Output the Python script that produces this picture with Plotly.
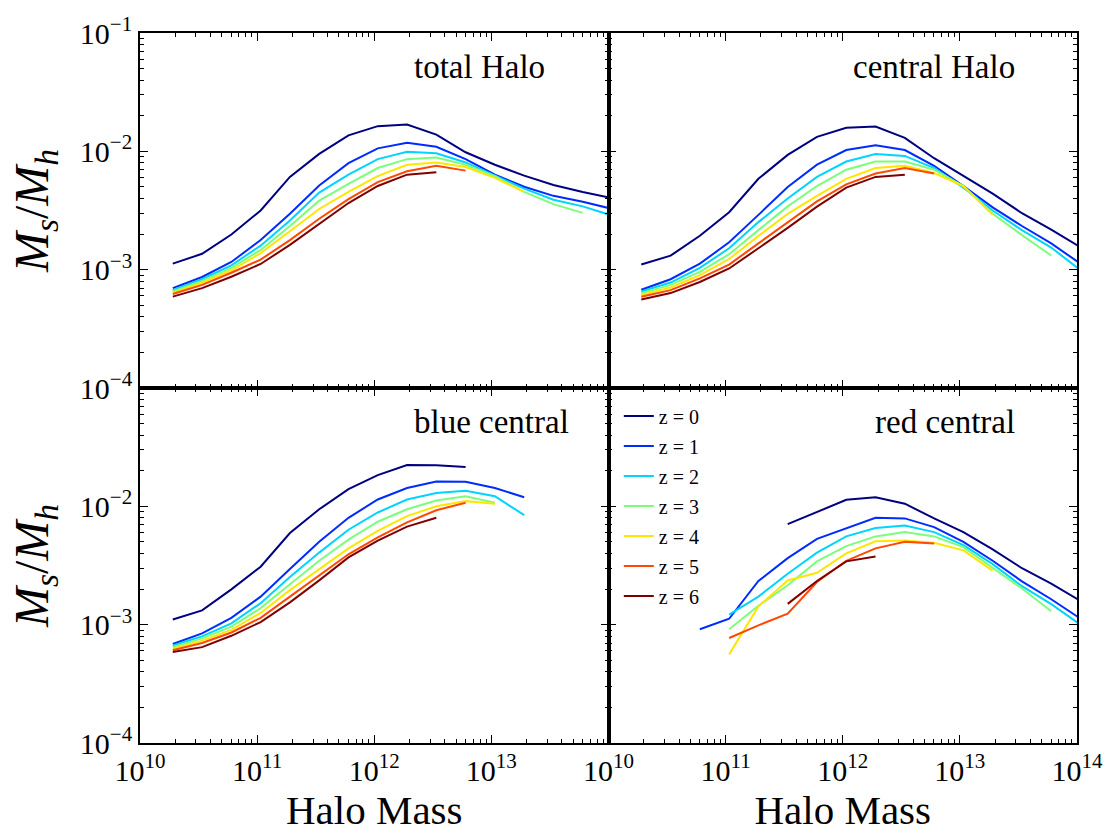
import plotly.graph_objects as go
from plotly.subplots import make_subplots

# log10 of halo mass at each bin
log_halo_mass = [10.28, 10.53, 10.78, 11.03, 11.28, 11.53, 11.78, 12.03,
                 12.28, 12.53, 12.78, 13.03, 13.28, 13.53, 13.78, 14.03]

redshift_labels = ["z = 0", "z = 1", "z = 2", "z = 3", "z = 4", "z = 5", "z = 6"]
redshift_colors = ["#000080", "#002bff", "#00d4ff", "#7bff7b", "#ffe600", "#ff4800", "#800000"]

panel_titles = ["total Halo", "central Halo", "blue central", "red central"]

N = None
# log10(Ms/Mh) per redshift
total_halo = [
    [-2.949, -2.866, -2.703, -2.500, -2.216, -2.022, -1.865, -1.787, -1.774, -1.859, -2.008, -2.113, -2.205, -2.285, -2.343, -2.395],
    [-3.156, -3.062, -2.935, -2.750, -2.528, -2.288, -2.100, -1.975, -1.928, -1.961, -2.066, -2.197, -2.299, -2.376, -2.426, -2.486],
    [-3.173, -3.081, -2.963, -2.797, -2.584, -2.349, -2.197, -2.066, -2.003, -2.017, -2.094, -2.202, -2.315, -2.409, -2.465, -2.543],
    [-3.184, -3.095, -2.985, -2.833, -2.631, -2.417, -2.274, -2.141, -2.066, -2.052, -2.113, -2.210, -2.343, -2.446, -2.520, N],
    [-3.198, -3.109, -3.007, -2.860, -2.675, -2.487, -2.343, -2.210, -2.113, -2.094, -2.133, -2.224, -2.343, N, N, N],
    [-3.206, -3.129, -3.026, -2.915, -2.750, -2.570, -2.404, -2.260, -2.169, -2.122, -2.163, N, N, N, N, N],
    [-3.228, -3.156, -3.060, -2.952, -2.791, -2.617, -2.437, -2.293, -2.197, -2.177, N, N, N, N, N, N],
]
central_halo = [
    [-2.957, -2.882, -2.714, -2.515, -2.232, -2.030, -1.878, -1.801, -1.790, -1.886, -2.058, -2.205, -2.357, -2.523, -2.661, -2.810],
    [-3.170, -3.081, -2.949, -2.769, -2.537, -2.301, -2.113, -1.989, -1.948, -1.989, -2.122, -2.293, -2.473, -2.631, -2.778, -2.950],
    [-3.184, -3.109, -2.985, -2.819, -2.598, -2.398, -2.216, -2.086, -2.022, -2.039, -2.141, -2.307, -2.500, -2.666, -2.813, -3.005],
    [-3.198, -3.129, -3.018, -2.869, -2.666, -2.465, -2.293, -2.155, -2.086, -2.086, -2.155, -2.293, -2.528, -2.708, -2.880, N],
    [-3.214, -3.151, -3.046, -2.910, -2.716, -2.529, -2.376, -2.232, -2.141, -2.122, -2.183, -2.293, -2.537, N, N, N],
    [-3.228, -3.173, -3.073, -2.957, -2.778, -2.603, -2.423, -2.279, -2.188, -2.141, -2.188, N, N, N, N, N],
    [-3.253, -3.198, -3.104, -2.990, -2.819, -2.647, -2.467, -2.307, -2.216, -2.197, N, N, N, N, N, N],
]
blue_central = [
    [-2.956, -2.879, -2.702, -2.510, -2.226, -2.025, -1.854, -1.736, -1.651, -1.653, -1.667, N, N, N, N, N],
    [-3.163, -3.074, -2.942, -2.763, -2.529, -2.300, -2.097, -1.942, -1.845, -1.791, -1.793, -1.845, -1.923, N, N, N],
    [-3.176, -3.099, -2.989, -2.818, -2.598, -2.391, -2.198, -2.052, -1.942, -1.887, -1.868, -1.915, -2.074, N, N, N],
    [-3.190, -3.116, -3.017, -2.860, -2.658, -2.460, -2.281, -2.130, -2.025, -1.950, -1.915, -1.969, N, N, N, N],
    [-3.204, -3.135, -3.044, -2.901, -2.708, -2.529, -2.355, -2.207, -2.083, -2.000, -1.956, -1.978, N, N, N, N],
    [-3.217, -3.155, -3.066, -2.942, -2.763, -2.584, -2.405, -2.262, -2.135, -2.033, -1.969, N, N, N, N, N],
    [-3.231, -3.190, -3.094, -2.978, -2.812, -2.626, -2.432, -2.289, -2.171, -2.097, N, N, N, N, N, N],
]
red_central = [
    [N, N, N, N, N, -2.151, -2.047, -1.945, -1.923, -1.978, -2.102, -2.218, -2.364, -2.523, -2.653, -2.800],
    [N, N, -3.039, -2.950, -2.631, -2.438, -2.275, -2.184, -2.097, -2.102, -2.176, -2.300, -2.460, -2.634, -2.785, -2.950],
    [N, N, N, -2.915, -2.763, -2.570, -2.391, -2.254, -2.184, -2.163, -2.218, -2.328, -2.488, -2.675, -2.826, -3.000],
    [N, N, N, -3.039, -2.840, -2.667, -2.465, -2.336, -2.254, -2.218, -2.254, -2.345, -2.521, -2.694, -2.887, N],
    [N, N, N, -3.251, -2.846, -2.626, -2.562, -2.397, -2.295, -2.289, -2.308, -2.372, -2.543, N, N, N],
    [N, N, N, -3.113, -3.006, -2.907, -2.639, -2.460, -2.355, -2.300, -2.314, N, N, N, N, N],
    [N, N, N, N, N, -2.824, -2.631, -2.465, -2.424, N, N, N, N, N, N, N],
]

panels = [total_halo, central_halo, blue_central, red_central]
positions = [(1, 1), (1, 2), (2, 1), (2, 2)]

FONT = "Liberation Serif"

fig = make_subplots(rows=2, cols=2, horizontal_spacing=0, vertical_spacing=0)

for p, (data, (r, c)) in enumerate(zip(panels, positions)):
    for i, series in enumerate(data):
        xs = [10 ** m for m, v in zip(log_halo_mass, series) if v is not None]
        ys = [10 ** v for v in series if v is not None]
        fig.add_trace(go.Scatter(
            x=xs, y=ys, mode="lines",
            line=dict(color=redshift_colors[i], width=2),
            name=redshift_labels[i],
            legendgroup=redshift_labels[i],
            showlegend=(p == 3),
        ), row=r, col=c)

x_major = [1e10, 1e11, 1e12, 1e13, 1e14]
x_text = ["10<sup>10</sup>", "10<sup>11</sup>", "10<sup>12</sup>", "10<sup>13</sup>", "10<sup>14</sup>"]
y_major = [1e-4, 1e-3, 1e-2, 1e-1]
y_text = ["10<sup>−4</sup>", "10<sup>−3</sup>", "10<sup>−2</sup>", "10<sup>−1</sup>"]
x_minor = [m * 10 ** e for e in range(10, 14) for m in range(2, 10)]
y_minor = [m * 10 ** e for e in range(-4, -1) for m in range(2, 10)]

for p, (r, c) in enumerate(positions):
    xt = x_text if c == 2 else x_text[:4] + [""]
    fig.update_xaxes(
        type="log", range=[10, 14], row=r, col=c,
        showline=True, linecolor="black", linewidth=1.6, mirror="allticks",
        ticks="inside", ticklen=8, tickwidth=1.3, tickcolor="black",
        tickmode="array", tickvals=x_major, ticktext=xt if r == 2 else [""] * 5,
        showticklabels=(r == 2), ticklabeloverflow="allow",
        minor=dict(ticks="inside", ticklen=4, tickwidth=1, tickcolor="black",
                   tickmode="array", tickvals=x_minor, showgrid=False),
        showgrid=False, zeroline=False,
        tickfont=dict(family=FONT, size=30, color="black"),
        title=dict(text="Halo Mass" if r == 2 else "", standoff=10,
                   font=dict(family=FONT, size=41, color="black")),
    )
    yt = y_text if r == 1 else [y_text[0], y_text[1], y_text[2], ""]
    fig.update_yaxes(
        type="log", range=[-4, -1], row=r, col=c,
        showline=True, linecolor="black", linewidth=1.6, mirror="allticks",
        ticks="inside", ticklen=8, tickwidth=1.3, tickcolor="black",
        tickmode="array", tickvals=y_major, ticktext=yt,
        showticklabels=(c == 1), ticklabeloverflow="allow",
        minor=dict(ticks="inside", ticklen=4, tickwidth=1, tickcolor="black",
                   tickmode="array", tickvals=y_minor, showgrid=False),
        showgrid=False, zeroline=False,
        tickfont=dict(family=FONT, size=30, color="black"),
        title=dict(text="<i>M</i><sub><i>s</i></sub>/<i>M</i><sub><i>h</i></sub>" if c == 1 else "",
                   standoff=16, font=dict(family=FONT, size=48, color="black")),
    )

# panel titles: left column aligned on their left edge, right column on their right edge
title_anchor = [(0.290, 0.952, "left"), (0.936, 0.952, "right"),
                (0.290, 0.452, "left"), (0.936, 0.452, "right")]
for t, (xa, ya, anc) in zip(panel_titles, title_anchor):
    fig.add_annotation(text=t, xref="paper", yref="paper", x=xa, y=ya,
                       xanchor=anc, yanchor="middle", showarrow=False,
                       font=dict(family=FONT, size=33, color="black"))

fig.update_layout(
    width=1116, height=837,
    margin=dict(l=140, r=39, t=27, b=85),
    paper_bgcolor="white", plot_bgcolor="white",
    legend=dict(x=0.511, y=0.488, xanchor="left", yanchor="top",
                bgcolor="rgba(0,0,0,0)", tracegroupgap=1, itemwidth=30,
                font=dict(family=FONT, size=20, color="black")),
)

fig.write_html("out.html", config={"displayModeBar": False},
               post_script="document.body.style.margin='0';document.body.style.overflow='hidden';")
